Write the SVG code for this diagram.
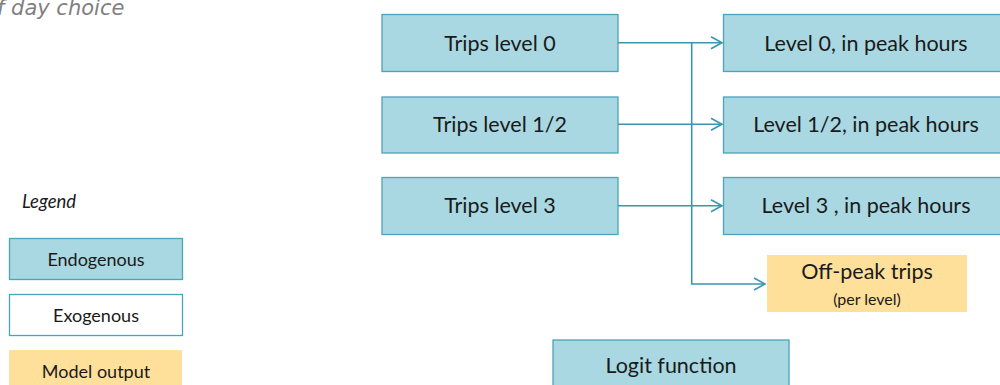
<svg xmlns="http://www.w3.org/2000/svg" width="1000" height="385" viewBox="0 0 1000 385">
<style>
.endo{fill:#A9D8E2;stroke:#4BA3BC;stroke-width:1.3}
.exo{fill:#FFFFFF;stroke:#4BA3BC;stroke-width:1.3}
.out{fill:#FFE09B;stroke:none}
.t{font-family:Lato,"Liberation Sans",sans-serif;font-size:21.5px;fill:#1a1a1a;text-anchor:middle}
.s{font-family:Lato,"Liberation Sans",sans-serif;font-size:18px;fill:#1a1a1a;text-anchor:middle}
.c{fill:none;stroke:#3B95AF;stroke-width:1.6}
</style>
<defs>
<marker id="arr" markerWidth="14" markerHeight="14" refX="12" refY="7" orient="auto" markerUnits="userSpaceOnUse">
<path d="M1,1 L12,7 L1,13" fill="none" stroke="#3B95AF" stroke-width="1.6"/>
</marker>
</defs>
<text x="-3" y="15" font-family="DejaVu Sans, Verdana, sans-serif" font-style="italic" font-size="21" fill="#808080">f day choice</text>
<g id="legend">
<text x="22" y="208" font-family="Lato,'Liberation Sans',sans-serif" font-style="italic" font-size="18.5" fill="#1a1a1a">Legend</text>
<g id="legend-endo"><rect class="endo" x="9.5" y="238.5" width="173" height="41"/><text class="s" x="96" y="265.5">Endogenous</text></g>
<g id="legend-exo"><rect class="exo" x="9.5" y="294.5" width="173" height="41"/><text class="s" x="96" y="321.5">Exogenous</text></g>
<g id="legend-out"><rect class="out" x="9" y="350" width="173" height="40"/><text class="s" x="96" y="377.5">Model output</text></g>
</g>
<g id="trips0"><rect class="endo" x="382" y="14.5" width="236" height="57"/><text class="t" x="500" y="51">Trips level 0</text></g>
<g id="trips12"><rect class="endo" x="382" y="97" width="236" height="56"/><text class="t" x="500" y="132">Trips level 1/2</text></g>
<g id="trips3"><rect class="endo" x="382" y="177.5" width="236" height="57"/><text class="t" x="500" y="213">Trips level 3</text></g>
<g id="peak0"><rect class="endo" x="723.5" y="14.5" width="290" height="57"/><text class="t" x="866" y="51">Level 0, in peak hours</text></g>
<g id="peak12"><rect class="endo" x="723.5" y="97" width="290" height="56"/><text class="t" x="866" y="132">Level 1/2, in peak hours</text></g>
<g id="peak3"><rect class="endo" x="723.5" y="177.5" width="290" height="57"/><text class="t" x="866" y="213">Level 3 , in peak hours</text></g>
<g id="offpeak"><rect class="out" x="767" y="255" width="200" height="57"/><text class="t" x="867" y="279">Off-peak trips</text><text x="867" y="305" font-family="Lato,'Liberation Sans',sans-serif" font-size="16" fill="#1a1a1a" text-anchor="middle">(per level)</text></g>
<g id="logit"><rect class="endo" x="553" y="340" width="236" height="50"/><text class="t" x="671" y="373">Logit function</text></g>
<g id="connectors">
<path class="c" d="M618,42.7 H722" marker-end="url(#arr)"/>
<path class="c" d="M618,124.3 H722" marker-end="url(#arr)"/>
<path class="c" d="M618,205.7 H722" marker-end="url(#arr)"/>
<path class="c" d="M691.7,42.7 V284 H765" marker-end="url(#arr)"/>
</g>
</svg>
